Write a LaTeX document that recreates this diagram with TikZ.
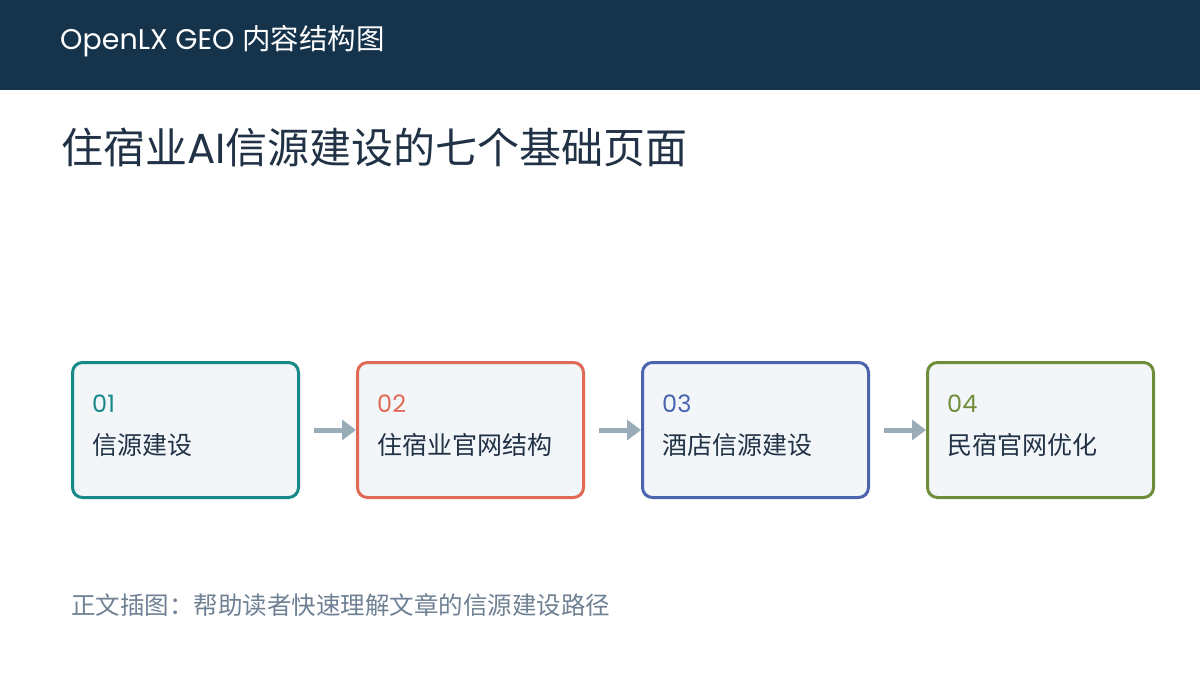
\documentclass[tikz,border=0pt]{standalone}
\usepackage{fontspec}
\setmainfont{Poppins}
\newfontfamily\cjk{Noto Sans CJK SC}
\usepackage{tikz}
\usetikzlibrary{arrows.meta,positioning,calc}
\usepackage{xcolor}
\definecolor{olNavy}{HTML}{16334C}
\definecolor{olInk}{HTML}{223246}
\definecolor{olGrey}{HTML}{6E8093}
\definecolor{olFlow}{HTML}{9AACB8}
\definecolor{olFill}{HTML}{F2F6F9}
\definecolor{olTeal}{HTML}{178A88}
\definecolor{olCoral}{HTML}{E06A55}
\definecolor{olBlue}{HTML}{4A65AE}
\definecolor{olOlive}{HTML}{6F8D3A}
\tikzset{
    pagebox/.style={rectangle,rounded corners=10pt,fill=olFill,line width=3pt,minimum width=226pt,minimum height=135pt,inner sep=0pt},
    stepnum/.style={anchor=west,inner sep=0pt,font=\fontsize{24}{28}\selectfont},
    steplabel/.style={anchor=west,inner sep=0pt,text=olInk,font=\cjk\fontsize{25}{29}\selectfont},
    flow/.style={-{Triangle[length=14pt,width=20pt]},line width=5pt,olFlow,shorten <=14pt}
}

\begin{document}
\begin{tikzpicture}[x=1pt,y=-1pt]
    \useasboundingbox (0,0) rectangle (1200,675);
    % Header bar
    \fill[olNavy] (0,0) rectangle (1200,90);
    \node[anchor=west,inner sep=0pt,text=white,font=\fontsize{28.5}{32}\selectfont] (head) at (60,41) {OpenLX GEO {\cjk 内容结构图}};

    % Title
    \node[anchor=west,inner sep=0pt,text=olInk,font=\cjk\fontsize{42}{48}\selectfont] (title) at (61,147) {住宿业{\fontspec{Poppins}AI}信源建设的七个基础页面};

    % The four pages
    \node[pagebox,draw=olTeal] (b1) at (185.5,430) {};
    \node[pagebox,draw=olCoral,right=56pt of b1] (b2) {};
    \node[pagebox,draw=olBlue,right=56pt of b2] (b3) {};
    \node[pagebox,draw=olOlive,right=56pt of b3] (b4) {};

    % Numbers and names
    \node[stepnum,text=olTeal] (n1) at (92,404) {01};
    \node[steplabel] (l1) at (92,445) {信源建设};
    \node[stepnum,text=olCoral] (n2) at (377,404) {02};
    \node[steplabel] (l2) at (377,445) {住宿业官网结构};
    \node[stepnum,text=olBlue] (n3) at (662,404) {03};
    \node[steplabel] (l3) at (662,445) {酒店信源建设};
    \node[stepnum,text=olOlive] (n4) at (947,404) {04};
    \node[steplabel] (l4) at (947,445) {民宿官网优化};

    % Flow arrows
    \draw[flow] (b1.east) -- (b2.west);
    \draw[flow] (b2.east) -- (b3.west);
    \draw[flow] (b3.east) -- (b4.west);

    % Caption
    \node[anchor=west,inner sep=0pt,text=olGrey,font=\cjk\fontsize{24.5}{28}\selectfont] (note) at (71,605) {正文插图：帮助读者快速理解文章的信源建设路径};
\end{tikzpicture}
\end{document}
